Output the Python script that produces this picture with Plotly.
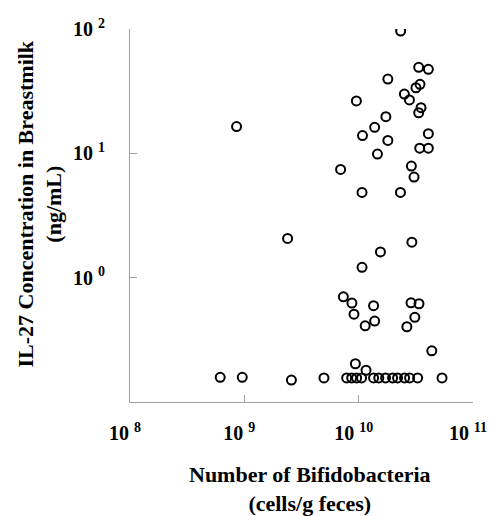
import plotly.graph_objects as go

# Bifidobacteria count (cells/g feces) and IL-27 concentration (ng/mL)
bifido = [
    2.33e10, 3.35e10, 4.07e10, 1.80e10, 3.44e10, 3.17e10, 2.51e10, 2.78e10, 9.55e9, 3.51e10,
    3.35e10, 1.73e10, 1.38e10, 4.07e10, 1.08e10, 1.80e10, 3.42e10, 4.07e10, 1.46e10, 6.95e9,
    2.89e10, 3.05e10, 1.07e10, 2.32e10, 2.92e10, 1.55e10, 1.07e10, 8.55e8, 2.39e9, 6.15e8,
    9.59e8, 2.58e9, 7.35e9, 8.73e9, 1.35e10, 9.10e9, 1.14e10, 1.38e10, 2.87e10, 3.37e10,
    3.10e10, 2.64e10, 4.36e10, 9.36e9, 1.16e10, 4.97e9, 5.36e10,
    7.85e9, 8.69e9, 9.60e9, 1.06e10, 1.35e10, 1.50e10, 1.72e10, 1.98e10, 2.19e10, 2.52e10,
    2.79e10, 3.28e10,
]
il27 = [
    96.4, 49.2, 47.4, 39.6, 35.9, 33.7, 30.0, 26.9, 26.4, 23.3,
    21.2, 19.7, 16.2, 14.4, 13.9, 12.7, 11.0, 11.0, 9.86, 7.43,
    7.90, 6.44, 4.85, 4.85, 1.93, 1.61, 1.21, 16.4, 2.07, 0.158,
    0.158, 0.150, 0.701, 0.625, 0.595, 0.509, 0.410, 0.448, 0.628, 0.617,
    0.480, 0.403, 0.258, 0.203, 0.180, 0.156, 0.156,
    0.156, 0.156, 0.156, 0.156, 0.156, 0.156, 0.156, 0.156, 0.156, 0.156,
    0.156, 0.156,
]

x_tickvals = [1e8, 1e9, 1e10, 1e11]
x_ticktext = ["10 <sup>8</sup>", "10 <sup>9</sup>", "10 <sup>10</sup>", "10 <sup>11</sup>"]
y_tickvals = [1, 10, 100]
y_ticktext = ["10 <sup>0</sup>", "10 <sup>1</sup>", "10 <sup>2</sup>"]

FONT = "Liberation Serif"
fig = go.Figure()
fig.add_trace(go.Scatter(
    x=bifido, y=il27, mode="markers",
    marker=dict(symbol="circle-open", size=9, color="black", line=dict(width=2, color="black")),
    showlegend=False,
))

axis_common = dict(
    type="log", showgrid=False, zeroline=False, showline=True, linecolor="#a0a0a0", linewidth=1,
    ticks="inside", ticklen=7, tickcolor="#a0a0a0", tickwidth=1, ticklabeloverflow="allow",
    automargin=False,
    tickfont=dict(family=FONT, size=20, color="black", weight="bold"),
)
fig.update_xaxes(range=[7.99995, 11.00005], tickvals=x_tickvals, ticktext=x_ticktext,
                 ticklabelstandoff=13, ticklabelshift=-5, **axis_common)
fig.update_yaxes(range=[-1.00005, 2.00005], tickvals=y_tickvals, ticktext=y_ticktext,
                 ticklabelstandoff=20, **axis_common)

fig.add_annotation(text="Number of Bifidobacteria<br>(cells/g feces)", xref="paper", yref="paper",
                   x=0.525, y=-0.232, xanchor="center", yanchor="middle", showarrow=False,
                   font=dict(family=FONT, size=22, color="black", weight="bold"))
fig.add_annotation(text="IL-27 Concentration in Breastmilk<br>(ng/mL)", xref="paper", yref="paper",
                   x=-0.262, y=0.53, xanchor="center", yanchor="middle", showarrow=False, textangle=-90,
                   font=dict(family=FONT, size=22, color="black", weight="bold"))

fig.update_layout(
    width=490, height=516, margin=dict(l=130, r=17, t=29, b=114, autoexpand=False),
    plot_bgcolor="white", paper_bgcolor="white",
)
fig.write_html("out.html")
